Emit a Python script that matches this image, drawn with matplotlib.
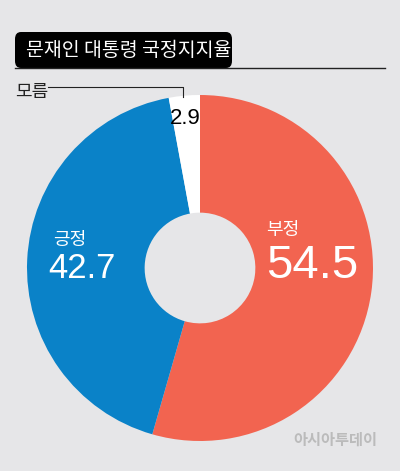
import matplotlib
matplotlib.use("Agg")
import matplotlib.pyplot as plt
from matplotlib.patches import FancyBboxPatch
from matplotlib.lines import Line2D

labels = ["부정", "긍정", "모름"]
values = [54.5, 42.7, 2.9]
colors = ["#F26450", "#0A82C8", "#FFFFFF"]
title = "문재인 대통령 국정지지율"

plt.rcParams['font.family'] = ['Noto Sans CJK KR', 'DejaVu Sans']
W, H = 400, 471
fig = plt.figure(figsize=(4, 4.71), dpi=100, facecolor="#E6E6E8")

def fx(x): return x / W
def fy(y): return 1 - y / H

R = 173
ax = fig.add_axes([fx(200 - R), fy(268 + R), 2 * R / W, 2 * R / H])
ax.set_facecolor("none")
ax.pie(values, colors=colors, startangle=90, counterclock=False,
       radius=1, wedgeprops=dict(width=0.68, edgecolor="none"))
ax.set_xlim(-1, 1); ax.set_ylim(-1, 1); ax.set_aspect("equal"); ax.axis("off")

# title box
fig.patches.append(FancyBboxPatch((fx(15), fy(68)), fx(217), 36 / H,
    boxstyle="round,pad=0,rounding_size=0.015", transform=fig.transFigure,
    facecolor="black", edgecolor="none"))
fig.lines.append(Line2D([fx(15), fx(385)], [fy(68), fy(68)], color="#222222", lw=1, transform=fig.transFigure))
fig.text(fx(26), fy(50), title, color="white", fontsize=14, va="center", ha="left")

# 모름 leader
fig.text(fx(15), fy(92), labels[2], color="#222222", fontsize=13, va="center", ha="left")
fig.lines.append(Line2D([fx(48), fx(183), fx(183)], [fy(87), fy(87), fy(97)], color="#222222", lw=0.8, transform=fig.transFigure))

num = ['Liberation Sans', 'DejaVu Sans']
fig.text(fx(185), fy(118), f"{values[2]}", color="black", fontsize=16, family=num, va="center", ha="center")
fig.text(fx(283), fy(230), labels[0], color="white", fontsize=13, va="center", ha="center")
fig.text(fx(312), fy(266), f"{values[0]}", color="white", fontsize=34, family=num, va="center", ha="center")
fig.text(fx(70), fy(240), labels[1], color="white", fontsize=13, va="center", ha="center")
fig.text(fx(82), fy(269), f"{values[1]}", color="white", fontsize=25, family=num, va="center", ha="center")

fig.text(fx(335), fy(440), "아시아투데이", color="#BBBBBB", fontsize=11, va="center", ha="center", fontweight="bold")

fig.savefig("out.png", dpi=100, facecolor=fig.get_facecolor())
